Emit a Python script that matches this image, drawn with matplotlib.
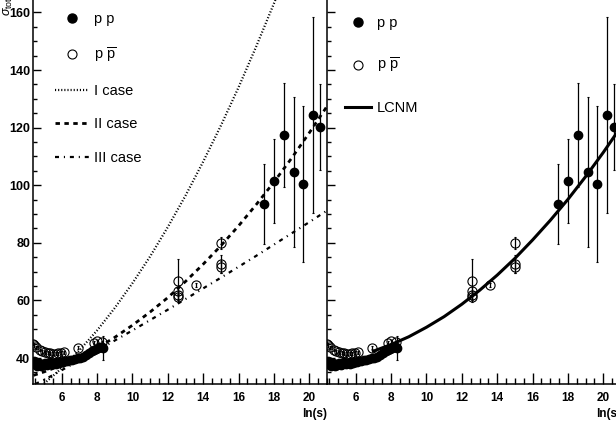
import matplotlib
matplotlib.use('Agg')
import matplotlib.pyplot as plt
from matplotlib.ticker import MultipleLocator
from matplotlib.lines import Line2D

plt.rcParams['font.family'] = ['Liberation Sans', 'DejaVu Sans']
plt.rcParams['mathtext.fontset'] = 'custom'
plt.rcParams['mathtext.rm'] = 'Liberation Sans'
plt.rcParams['mathtext.it'] = 'Liberation Sans:italic'
plt.rcParams['mathtext.bf'] = 'Liberation Sans:bold'

# ---------------- data ----------------
# pp, low energy (accelerator)
pp_low_lns = [4.42, 4.45, 4.55, 4.6, 4.7, 4.8, 4.85, 4.95, 5.05, 5.15, 5.25, 5.35, 5.45,
              5.55, 5.65, 5.75, 5.85, 5.95, 6.05, 6.15, 6.3, 6.45, 6.6, 6.75, 6.9,
              7.05, 7.2, 7.4, 7.55, 7.7, 7.85, 7.95, 8.05, 8.15, 8.26]
pp_low_sig = [39.0, 37.8, 38.6, 37.3, 38.3, 37.1, 38.1, 37.5, 38.3, 37.6, 38.0, 38.5, 37.8,
              38.3, 37.9, 38.6, 38.2, 38.7, 38.5, 38.9, 39.0, 39.3, 39.4, 39.7, 39.9,
              40.1, 40.4, 41.2, 41.8, 42.4, 42.9, 43.3, 43.6, 43.9, 43.8]
# pp with error bars
pp_err_lns = [8.32, 17.46, 17.98, 18.55, 19.11, 19.65, 20.21, 20.59]
pp_err_sig = [43.5, 93.5, 101.4, 117.4, 104.5, 100.5, 124.4, 120.3]
pp_err_err = [4.2, 14.0, 14.5, 18.0, 26.0, 27.0, 34.0, 15.0]

# p pbar
pb_lns = [4.40, 4.45, 4.55, 4.75, 4.90, 5.05, 5.20, 5.35, 5.50, 5.65, 5.80, 5.95,
          6.10, 6.90, 7.85, 8.00, 8.25,
          12.6, 12.6, 12.6, 12.6, 13.6, 15.0, 15.0, 15.0]
pb_sig = [45.0, 44.5, 43.8, 42.8, 42.3, 42.0, 41.8, 41.6, 41.5, 41.5, 41.6, 41.8,
          42.0, 43.6, 45.3, 45.8, 45.5,
          66.8, 63.3, 61.9, 61.3, 65.5, 80.0, 72.8, 71.7]
pb_err = [0.5, 0.5, 0.5, 0.5, 0.5, 0.5, 0.5, 0.5, 0.5, 0.5, 0.5, 0.5,
          0.5, 0.5, 0.5, 0.5, 0.5,
          7.5, 1.5, 1.5, 1.0, 0.7, 2.2, 3.1, 2.0]

# model curves
c1_lns = [5.0, 6.0, 7.0, 8.0, 9.0, 10.0, 11.0, 12.0, 13.0, 14.0, 15.0, 16.0, 17.0, 18.0, 18.5]
c1_sig = [31.1, 36.5, 42.7, 49.6, 57.4, 66.0, 75.3, 85.5, 96.4, 108.2, 120.7, 134.0, 148.2, 163.1, 170.8]

c2_lns = [4.4, 5.0, 6.0, 7.0, 8.0, 9.0, 10.0, 11.0, 12.0, 13.0, 14.0, 15.0, 16.0, 17.0, 18.0, 19.0, 20.0, 21.0]
c2_sig = [34.0, 35.2, 37.5, 40.3, 43.5, 47.2, 51.4, 56.0, 61.0, 66.6, 72.6, 79.0, 85.9, 93.3, 101.1, 109.4, 118.2, 127.4]

c3_lns = [4.5, 5.0, 6.0, 7.0, 8.0, 9.0, 10.0, 11.0, 12.0, 13.0, 14.0, 15.0, 16.0, 17.0, 18.0, 19.0, 20.0, 21.0]
c3_sig = [31.0, 32.4, 35.8, 39.2, 42.6, 46.1, 49.6, 53.2, 56.8, 60.5, 64.2, 67.9, 71.7, 75.5, 79.4, 83.3, 87.2, 91.2]

lcnm_lns = [7.0, 8.0, 9.0, 10.0, 11.0, 12.0, 13.0, 14.0, 15.0, 16.0, 17.0, 18.0, 19.0, 20.0, 21.0]
lcnm_sig = [42.4, 44.7, 47.4, 50.7, 54.4, 58.7, 63.5, 68.8, 74.6, 81.0, 87.8, 95.1, 103.0, 111.4, 120.3]

x_ticks = [6, 8, 10, 12, 14, 16, 18, 20]
y_ticks = [40, 60, 80, 100, 120, 140, 160]

# ---------------- figure ----------------
W, H = 616, 430
fig = plt.figure(figsize=(W / 100, H / 100), dpi=100)
ax_l = fig.add_axes([33 / W, 46 / H, 294 / W, 384 / H])
ax_r = fig.add_axes([327 / W, 46 / H, 294 / W, 384 / H])

XLIM = (4.375, 21.0)
YLIM = (31.0, 164.3)

MS_FILLED = 6.0
MS_OPEN = 6.6


def draw_data(ax):
    ax.plot(pp_low_lns, pp_low_sig, 'o', color='black', ms=MS_FILLED, mec='black', zorder=3)
    ax.errorbar(pp_err_lns, pp_err_sig, yerr=pp_err_err, fmt='o', color='black',
                ms=MS_FILLED, elinewidth=0.9, capsize=1.0, capthick=0.8, zorder=3)
    ax.errorbar(pb_lns, pb_sig, yerr=pb_err, fmt='o', color='black', mfc='none',
                mec='black', mew=0.8, ms=MS_OPEN, elinewidth=0.9, capsize=1.0,
                capthick=0.8, zorder=4)


def style_axis(ax, labels_y=True):
    ax.set_xlim(*XLIM)
    ax.set_ylim(*YLIM)
    for s in ('top', 'right'):
        ax.spines[s].set_visible(False)
    for s in ('left', 'bottom'):
        ax.spines[s].set_linewidth(1.1)
    ax.set_xticks(x_ticks)
    ax.set_yticks(y_ticks)
    ax.xaxis.set_minor_locator(MultipleLocator(0.5))
    ax.yaxis.set_minor_locator(MultipleLocator(5))
    ax.tick_params(axis='x', which='major', direction='in', length=8, width=1.0, pad=6,
                   labelsize=8.5, top=False)
    ax.tick_params(axis='x', which='minor', direction='in', length=4, width=1.0, top=False)
    ax.tick_params(axis='y', which='major', direction='in', length=6, width=1.0, pad=2,
                   labelsize=9, right=False, labelleft=labels_y)
    ax.tick_params(axis='y', which='minor', direction='in', length=3, width=1.0, right=False)
    for lab in ax.get_xticklabels() + ax.get_yticklabels():
        lab.set_fontweight('bold')
    ax.set_xlabel('ln(s)', fontsize=8.5, fontweight='bold', loc='right', labelpad=3)
    ax.patch.set_alpha(0)


# left panel
draw_data(ax_l)
ax_l.plot(c1_lns, c1_sig, color='black', lw=1.6, ls=(0, (0.5, 0.9)), zorder=5)
ax_l.plot(c2_lns, c2_sig, color='black', lw=2.0, ls=(0, (1.6, 1.6)), zorder=5)
ax_l.plot(c3_lns, c3_sig, color='black', lw=1.6, ls=(0, (1.8, 2.2, 0.5, 2.2)), zorder=5)
style_axis(ax_l)

# right panel
draw_data(ax_r)
ax_r.plot(lcnm_lns, lcnm_sig, color='black', lw=2.2, zorder=5)
style_axis(ax_r, labels_y=False)

# legends
pbar_label = r'p $\overline{\mathrm{p}}$'
h_pp = Line2D([], [], ls='none', marker='o', color='black', ms=6.5)
h_pb = Line2D([], [], ls='none', marker='o', mfc='none', mec='black', mew=0.8, ms=6.5)
h1 = Line2D([], [], color='black', lw=1.6, ls=(0, (0.5, 0.9)))
h2 = Line2D([], [], color='black', lw=2.0, ls=(0, (1.6, 1.6)))
h3 = Line2D([], [], color='black', lw=1.6, ls=(0, (1.8, 2.2, 0.5, 2.2)))
h4 = Line2D([], [], color='black', lw=2.2)

ax_l.legend([h_pp, h_pb, h1, h2, h3], ['p p', pbar_label, 'I case', 'II case', 'III case'],
            loc='upper left', bbox_to_anchor=(0.075, 1.0 - 12 / 384), frameon=False,
            fontsize=10.5, handlelength=2.35, handletextpad=0.35, labelspacing=1.33,
            borderpad=0, borderaxespad=0)
ax_r.legend([h_pp, h_pb, h4], ['p p', pbar_label, 'LCNM'],
            loc='upper left', bbox_to_anchor=(0.062, 1.0 - 16 / 384), frameon=False,
            fontsize=10.5, handlelength=1.75, handletextpad=0.4, labelspacing=1.78,
            borderpad=0, borderaxespad=0)

fig.text(8 / W, 1 - 16 / H, r'$\sigma_{\mathrm{tot}}$', rotation=90, fontsize=9,
         fontweight='bold', ha='center', va='bottom')

fig.savefig('out.png', dpi=100)
